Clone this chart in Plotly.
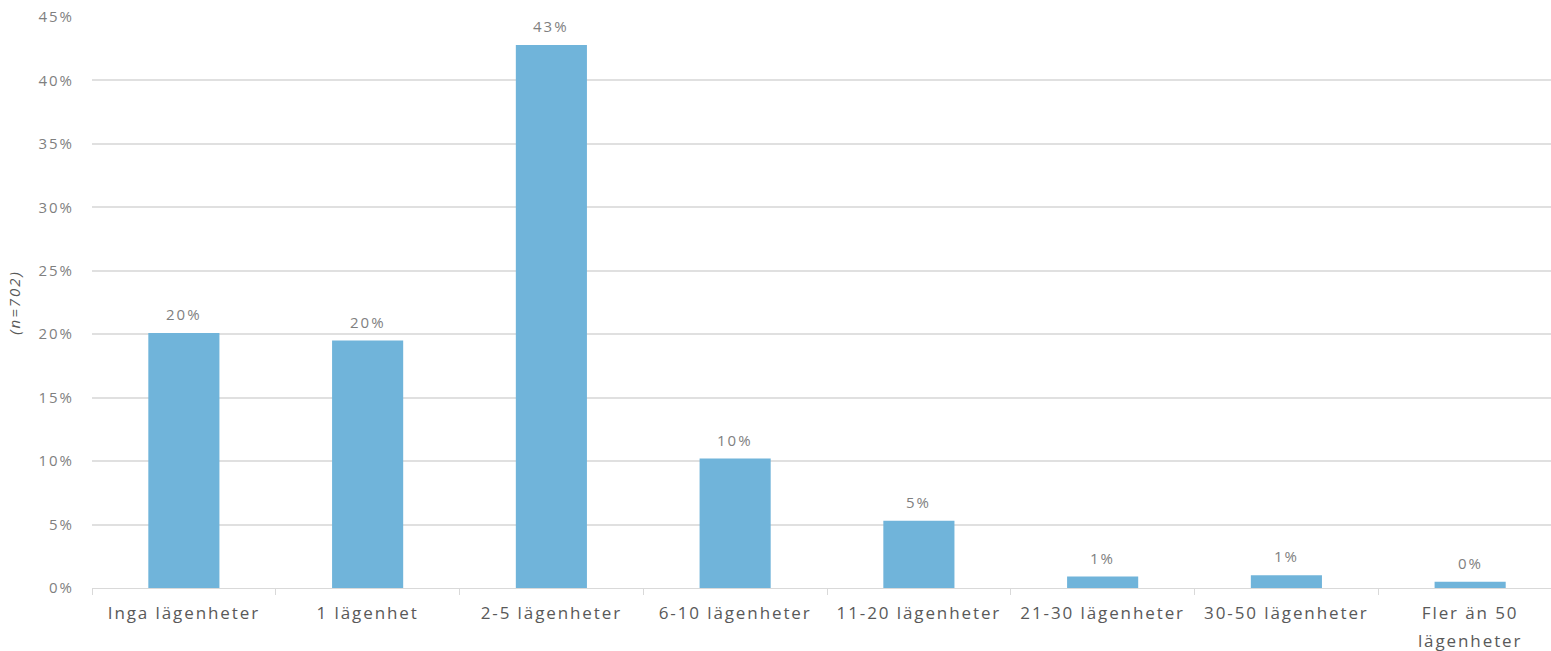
import plotly.graph_objects as go

categories = ["Inga lägenheter", "1 lägenhet", "2-5 lägenheter", "6-10 lägenheter",
              "11-20 lägenheter", "21-30 lägenheter", "30-50 lägenheter",
              "Fler än 50<br>lägenheter"]
shares = [20.1, 19.5, 42.8, 10.2, 5.3, 0.9, 1.0, 0.5]
share_labels = ["20%", "20%", "43%", "10%", "5%", "1%", "1%", "0%"]
y_ticks = [0, 5, 10, 15, 20, 25, 30, 35, 40, 45]
y_tick_labels = [f"{v}%" for v in y_ticks]

FONT = "Open Sans"

fig = go.Figure(go.Bar(
    x=categories,
    y=shares,
    marker=dict(color="#70B4DA", line=dict(width=0)),
    width=0.387,
    hoverinfo="x+y",
))

# value labels sit a little above each bar top
for cat, val, lab in zip(categories, shares, share_labels):
    fig.add_annotation(
        x=cat, y=val, text=lab, showarrow=False,
        xanchor="center", yanchor="bottom", yshift=7,
        font=dict(family=FONT, size=15, color="#7F7F7F"),
    )

fig.update_layout(
    width=1551, height=651,
    margin=dict(l=92, r=0, t=17, b=63),
    plot_bgcolor="white", paper_bgcolor="white",
    showlegend=False,
    font=dict(family=FONT),
    xaxis=dict(
        type="category",
        range=[-0.5, 7.44],
        tickson="boundaries",
        ticks="outside", ticklen=6, tickcolor="#D9D9D9", tickwidth=1,
        showline=True, linecolor="#D9D9D9", linewidth=1,
        showgrid=False,
        ticklabelstandoff=10,
        tickfont=dict(family=FONT, size=17, color="#595959"),
    ),
    yaxis=dict(
        range=[0, 45],
        tickvals=y_ticks, ticktext=y_tick_labels,
        showgrid=True, gridcolor="#E0E0E0", gridwidth=1.5,
        zeroline=False, showline=False,
        ticks="", ticklabelstandoff=17,
        tickfont=dict(family=FONT, size=15, color="#7F7F7F"),
        title=dict(text="<i>(n=702)</i>", standoff=20,
                   font=dict(family=FONT, size=15, color="#595959")),
    ),
)

# widen the letter spacing of all chart texts and open up the two-line label
spacing_js = """
var gd = document.getElementsByClassName('plotly-graph-div')[0];
function spread(sel, px) {
  gd.querySelectorAll(sel).forEach(function (t) { t.style.letterSpacing = px; });
}
spread('.xtick text', '1.9px');
spread('.ytick text', '2px');
spread('.annotation-text', '2px');
spread('.ytitle', '2px');
gd.querySelectorAll('.xtick text tspan.line').forEach(function (s, i) {
  if (s.getAttribute('dy') && parseFloat(s.getAttribute('dy')) > 0) {
    s.setAttribute('dy', '1.6em');
  }
});
"""

fig.write_html("out.html", post_script=spacing_js)
